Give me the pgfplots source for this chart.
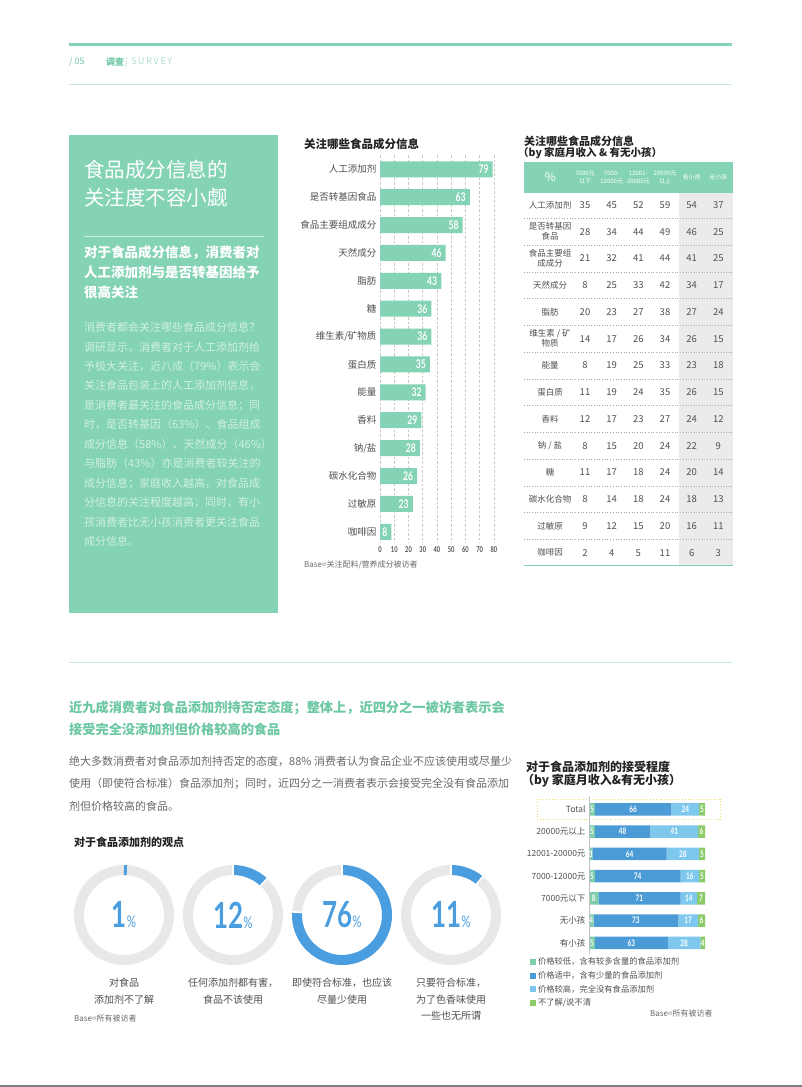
\documentclass[border=0pt]{standalone}
\usepackage{fontspec}
\setmainfont{Noto Sans CJK SC}
\newfontfamily\condfont[FakeStretch=0.72]{Lato}
\usepackage{pgfplots}
\pgfplotsset{compat=1.18}
\pgfplotsset{/pgf/number format/assume math mode=true}
\usepackage{pgfplotstable}
\newcommand{\fs}[2]{\fontsize{#1bp}{#2bp}\selectfont}
\definecolor{mint}{RGB}{132,211,181}
\definecolor{minttext}{RGB}{108,199,163}
\definecolor{mintlight}{RGB}{195,234,220}
\definecolor{boxtext}{RGB}{208,239,227}
\definecolor{labelgray}{RGB}{80,80,80}
\definecolor{darktext}{RGB}{35,35,35}
\definecolor{bodygray}{RGB}{105,105,105}
\definecolor{tablegray}{RGB}{235,235,235}
\definecolor{ringgray}{RGB}{232,232,232}
\definecolor{donutblue}{RGB}{74,158,224}
\definecolor{segA}{RGB}{125,205,168}
\definecolor{segB}{RGB}{75,155,214}
\definecolor{segC}{RGB}{126,200,238}
\definecolor{segD}{RGB}{140,203,105}
\definecolor{ygold}{RGB}{240,215,110}

\pgfplotstableread[col sep=comma]{
idx,val,name
0,79,人工添加剂
1,63,是否转基因食品
2,58,食品主要组成成分
3,46,天然成分
4,43,脂肪
5,36,糖
6,36,维生素/矿物质
7,35,蛋白质
8,32,能量
9,29,香料
10,28,钠/盐
11,26,碳水化合物
12,23,过敏原
13,8,咖啡因
}\barA

\pgfplotstableread[col sep=comma]{
idx,c1,c2,c3,c4,k1,k2
0,35,45,52,59,54,37
1,28,34,44,49,46,25
2,21,32,41,44,41,25
3,8,25,33,42,34,17
4,20,23,27,38,27,24
5,14,17,26,34,26,15
6,8,19,25,33,23,18
7,11,19,24,35,26,15
8,12,17,23,27,24,12
9,8,15,20,24,22,9
10,11,17,18,24,20,14
11,8,14,18,24,18,13
12,9,12,15,20,16,11
13,2,4,5,11,6,3
}\tabT

\pgfplotstableread[col sep=comma]{
idx,a,b,c,d,name
0,5,66,24,5,Total
1,5,48,41,6,20000元以上
2,3,64,28,5,12001-20000元
3,5,74,16,5,7000-12000元
4,8,71,14,7,7000元以下
5,4,73,17,6,无小孩
6,5,63,28,4,有小孩
}\stackT

\pgfplotstableread{
cx pct
124 1
233 12
342 76
451 11
}\donutT

\begin{document}
\begin{tikzpicture}
\fill[white] (0bp,0bp) rectangle (802bp,-1087bp);
\begin{scope}[x=1bp,y=-1bp]
% header
\draw[mint,line width=3bp] (69,44)--(732,44);
\node[anchor=west,inner sep=0pt,text=minttext,font=\fs{9}{10}] at (69,62) {/ 05};
\node[anchor=west,inner sep=0pt,text=minttext,font=\bfseries\fs{9}{10}] at (106,62) {调查};
\node[anchor=west,inner sep=0pt,text=minttext!55,font=\fs{9}{10}\addfontfeature{LetterSpace=18}] at (125,62) {| SURVEY};
\draw[mintlight,line width=0.8bp] (69,84)--(732,84);
% green box
\fill[mint] (69,135) rectangle (278,613);
\node[anchor=west,inner sep=0pt,text=white,font=\fs{20.5}{28}] at (84,170) {食品成分信息的};
\node[anchor=west,inner sep=0pt,text=white,font=\fs{20.5}{28}] at (84,198) {关注度不容小觑};
\draw[white!60!mint,line width=0.8bp] (84,236)--(264,236);
\node[anchor=north west,inner sep=0pt,text=white,font=\bfseries\fs{13.5}{20},align=left] at (84,246) {对于食品成分信息，消费者对\\人工添加剂与是否转基因给予\\很高关注};
\node[anchor=north west,inner sep=0pt,text=boxtext,font=\fs{11}{19.45},align=left] at (84,322) {消费者都会关注哪些食品成分信息？\\调研显示，消费者对于人工添加剂给\\予极大关注，近八成（79\%）表示会\\关注食品包装上的人工添加剂信息，\\是消费者最关注的食品成分信息；同\\时，是否转基因（63\%）、食品组成\\成分信息（58\%）、天然成分（46\%）\\与脂肪（43\%）亦是消费者较关注的\\成分信息；家庭收入越高，对食品成\\分信息的关注程度越高；同时，有小\\孩消费者比无小孩消费者更关注食品\\成分信息。};
% bar chart title / base
\node[anchor=west,inner sep=0pt,text=darktext,font=\bfseries\fs{11.5}{13}] at (304,144) {关注哪些食品成分信息};
\node[anchor=west,inner sep=0pt,text=bodygray,font=\fs{8}{9}] at (304,565) {Base=关注配料/营养成分被访者};
% table title
\node[anchor=west,inner sep=0pt,text=darktext,font=\bfseries\fs{11}{12}] at (524,141) {关注哪些食品成分信息};
\node[anchor=west,inner sep=0pt,text=darktext,font=\bfseries\fs{10.5}{12}] at (518,153) {（by 家庭月收入 \& 有无小孩）};
% separator
\draw[mintlight,line width=0.8bp] (69,662)--(732,662);
% bottom heading
\node[anchor=north west,inner sep=0pt,text=minttext,font=\bfseries\fs{13.2}{22},align=left] at (69,701) {近九成消费者对食品添加剂持否定态度；整体上，近四分之一被访者表示会\\接受完全没添加剂但价格较高的食品};
\node[anchor=north west,inner sep=0pt,text=bodygray,font=\fs{11}{22.5},align=left] at (69,755.5) {绝大多数消费者对食品添加剂持否定的态度，88\% 消费者认为食品企业不应该使用或尽量少\\使用（即使符合标准）食品添加剂；同时，近四分之一消费者表示会接受完全没有食品添加\\剂但价格较高的食品。};
% donut section
\node[anchor=west,inner sep=0pt,text=darktext,font=\bfseries\fs{11}{12}] at (74,842) {对于食品添加剂的观点};
\node[anchor=north,inner sep=0pt,text=labelgray,font=\fs{10}{16.5},align=center] at (124,978) {对食品\\添加剂不了解};
\node[anchor=north,inner sep=0pt,text=labelgray,font=\fs{10}{16.5},align=center] at (233,978) {任何添加剂都有害，\\食品不该使用};
\node[anchor=north,inner sep=0pt,text=labelgray,font=\fs{10}{16.5},align=center] at (342,978) {即使符合标准，也应该\\尽量少使用};
\node[anchor=north,inner sep=0pt,text=labelgray,font=\fs{10}{16.5},align=center] at (451,978) {只要符合标准，\\为了色香味使用\\一些也无所谓};
\node[anchor=west,inner sep=0pt,text=bodygray,font=\fs{8}{9}] at (74,1018) {Base=所有被访者};
% stacked chart title
\node[anchor=west,inner sep=0pt,text=darktext,font=\bfseries\fs{12}{13}] at (526,767) {对于食品添加剂的接受程度};
\node[anchor=west,inner sep=0pt,text=darktext,font=\bfseries\fs{12}{13}] at (522,781) {（by 家庭月收入\&有无小孩）};
\node[anchor=west,inner sep=0pt,text=bodygray,font=\fs{8}{9}] at (650,1013) {Base=所有被访者};
% bottom line
\draw[black!50,line width=2bp] (0,1086)--(802,1086);
\end{scope}

% ---- horizontal bar chart ----
\begin{axis}[at={(380bp,-155.4bp)}, anchor=north west, scale only axis,
  width=114bp, height=387.5bp,
  xbar, bar width=16bp, xmin=0, xmax=80, ymin=-0.5, ymax=13.4, y dir=reverse,
  ytick={0,...,13}, yticklabels from table={\barA}{name},
  xtick={0,10,...,80},
  axis line style={draw=none}, major tick length=0pt,
  xmajorgrids, grid style={dash pattern=on 2.5bp off 2bp, black!22, line width=0.6bp},
  yticklabel style={font=\fs{9.5}{11}, text=labelgray},
  xticklabel style={font=\condfont\bfseries\fs{8}{9}, text=labelgray},
  nodes near coords, point meta=x,
  every node near coord/.append style={anchor=east, xshift=-0.5bp, font=\condfont\bfseries\fs{12}{12}, text=white},
  clip=false]
\addplot[fill=mint, draw=none] table[x=val, y=idx]{\barA};
\end{axis}

% ---- table ----
\begin{axis}[at={(524bp,-162bp)}, anchor=north west, scale only axis,
  width=209bp, height=403.5bp,
  xmin=-1.287, xmax=6.549, ymin=-1.607, ymax=13.477, y dir=reverse,
  axis line style={draw=none}, major tick length=0pt, xtick=\empty,
  ytick={0,...,13},
  yticklabels={人工添加剂,{是否转基因\\食品},{食品主要组\\成成分},天然成分,脂肪,{维生素 / 矿\\物质},能量,蛋白质,香料,钠 / 盐,糖,碳水化合物,过敏原,咖啡因},
  yticklabel style={align=center, anchor=center, xshift=26bp, font=\fs{8.5}{10}, text=labelgray},
  nodes near coords, point meta=explicit,
  every node near coord/.append style={anchor=center, font=\fs{9.5}{10}, text=labelgray},
  clip=false]
\fill[mint] (axis cs:-1.287,-1.607) rectangle (axis cs:6.549,-0.449);
\fill[tablegray] (axis cs:4.525,-0.449) rectangle (axis cs:6.549,13.477);
\pgfplotsinvokeforeach{0.5,1.5,2.5,3.5,4.5,5.5,6.5,7.5,8.5,9.5,10.5,11.5,12.5}{
  \draw[black!35, dotted, line width=0.7bp] (axis cs:-1.287,#1) -- (axis cs:6.549,#1);
}
\draw[mint, line width=1.5bp] (axis cs:-1.287,13.477) -- (axis cs:6.549,13.477);
\node[text=white, font=\fs{12}{12}] at (axis cs:-0.3,-1.03) {\%};
\node[text=white, font=\fs{6}{8}, align=center] at (axis cs:1,-1.03) {7000元\\以下};
\node[text=white, font=\fs{6}{8}, align=center] at (axis cs:2,-1.03) {7000-\\12000元};
\node[text=white, font=\fs{6}{8}, align=center] at (axis cs:3,-1.03) {12001-\\20000元};
\node[text=white, font=\fs{6}{8}, align=center] at (axis cs:4,-1.03) {20000元\\以上};
\node[text=white, font=\fs{6}{8}, align=center] at (axis cs:5,-1.03) {有小孩};
\node[text=white, font=\fs{6}{8}, align=center] at (axis cs:6,-1.03) {无小孩};
\addplot[draw=none] table[x expr=1, y=idx, meta=c1]{\tabT};
\addplot[draw=none] table[x expr=2, y=idx, meta=c2]{\tabT};
\addplot[draw=none] table[x expr=3, y=idx, meta=c3]{\tabT};
\addplot[draw=none] table[x expr=4, y=idx, meta=c4]{\tabT};
\addplot[draw=none] table[x expr=5, y=idx, meta=k1]{\tabT};
\addplot[draw=none] table[x expr=6, y=idx, meta=k2]{\tabT};
\end{axis}

% ---- stacked bars ----
\begin{axis}[at={(589bp,-796bp)}, anchor=north west, scale only axis,
  width=116bp, height=158bp,
  xbar stacked, bar width=12.5bp, xmin=0, xmax=100, ymin=-0.6, ymax=6.5, y dir=reverse,
  ytick={0,...,6}, yticklabels from table={\stackT}{name}, xtick=\empty,
  axis line style={draw=none}, major tick length=0pt,
  yticklabel style={font=\fs{8.5}{10}, text=labelgray},
  legend cell align=left,
  legend style={at={(axis description cs:-0.51,-0.01)}, anchor=north west, draw=none, fill=none, font=\fs{8.3}{10}, text=labelgray, row sep=1.2bp, inner sep=0pt},
  clip=false]
\draw[black!25, line width=0.6bp] (rel axis cs:0,0) -- (rel axis cs:0,1);
\draw[ygold, dotted, line width=0.9bp] (axis cs:-44.8,-0.46) rectangle (axis cs:112.9,0.44);
\addplot[fill=segA, draw=none, legend image code/.code={\fill[segA] (0bp,-3bp) rectangle (6bp,3bp);}] table[x=a,y=idx]{\stackT};
\addplot[fill=segB, draw=none, legend image code/.code={\fill[segB] (0bp,-3bp) rectangle (6bp,3bp);}] table[x=b,y=idx]{\stackT};
\addplot[fill=segC, draw=none, legend image code/.code={\fill[segC] (0bp,-3bp) rectangle (6bp,3bp);}] table[x=c,y=idx]{\stackT};
\addplot[fill=segD, draw=none, legend image code/.code={\fill[segD] (0bp,-3bp) rectangle (6bp,3bp);}] table[x=d,y=idx]{\stackT};
\legend{价格较低，含有较多含量的食品添加剂, 价格适中，含有少量的食品添加剂, 价格较高，完全没有食品添加剂, 不了解/说不清}
\end{axis}

\begin{axis}[at={(589bp,-796bp)}, anchor=north west, scale only axis,
  width=116bp, height=158bp,
  xmin=0, xmax=100, ymin=-0.6, ymax=6.5, y dir=reverse, hide axis, clip=false,
  nodes near coords, point meta=explicit,
  every node near coord/.append style={anchor=center, inner sep=0pt, font=\condfont\bfseries\fs{9}{9}, text=white}]
\addplot[draw=none] table[x expr=\thisrow{a}/2, y=idx, meta=a]{\stackT};
\addplot[draw=none] table[x expr=\thisrow{a}+\thisrow{b}/2, y=idx, meta=b]{\stackT};
\addplot[draw=none] table[x expr=\thisrow{a}+\thisrow{b}+\thisrow{c}/2, y=idx, meta=c]{\stackT};
\addplot[draw=none] table[x expr=\thisrow{a}+\thisrow{b}+\thisrow{c}+\thisrow{d}/2, y=idx, meta=d]{\stackT};
\end{axis}

% ---- donuts ----
\begin{axis}[at={(0bp,0bp)}, anchor=north west, x=1bp, y=1bp,
  xmin=0, xmax=802, ymin=-1087, ymax=0, hide axis, clip=false]
\pgfplotsinvokeforeach{0,1,2,3}{
  \pgfplotstablegetelem{#1}{cx}\of\donutT \edef\cx{\pgfplotsretval}
  \pgfplotstablegetelem{#1}{pct}\of\donutT \edef\pc{\pgfplotsretval}
  \pgfmathsetmacro\ea{90-3.6*\pc}
  \edef\temp{\noexpand\draw[line width=10bp, ringgray] (axis cs:\cx,-915) circle[radius=45bp];
    \noexpand\draw[line width=10bp, donutblue] (axis cs:\cx,-870) arc[start angle=90, delta angle=-3.6*\pc, radius=45bp];}
  \temp
  \ifnum\pc>4
    \edef\tempb{\noexpand\draw[white, line width=1.6bp] (axis cs:\cx,-915) ++(90:39bp) -- ++(90:12bp);
      \noexpand\draw[white, line width=1.6bp] (axis cs:\cx,-915) ++(\ea:39bp) -- ++(\ea:12bp);}
    \tempb
  \fi
}
\addplot[draw=none, point meta=explicit,
  nodes near coords={\bfseries\pgfmathprintnumber{\pgfplotspointmeta}\mdseries\fs{16}{16}\%},
  every node near coord/.append style={anchor=center, text=donutblue, font=\condfont\fs{36}{36}}]
  table[x=cx, y expr=-915, meta=pct]{\donutT};
\end{axis}

\pgfresetboundingbox
\useasboundingbox (0bp,0bp) rectangle (802bp,-1087bp);
\end{tikzpicture}
\end{document}
